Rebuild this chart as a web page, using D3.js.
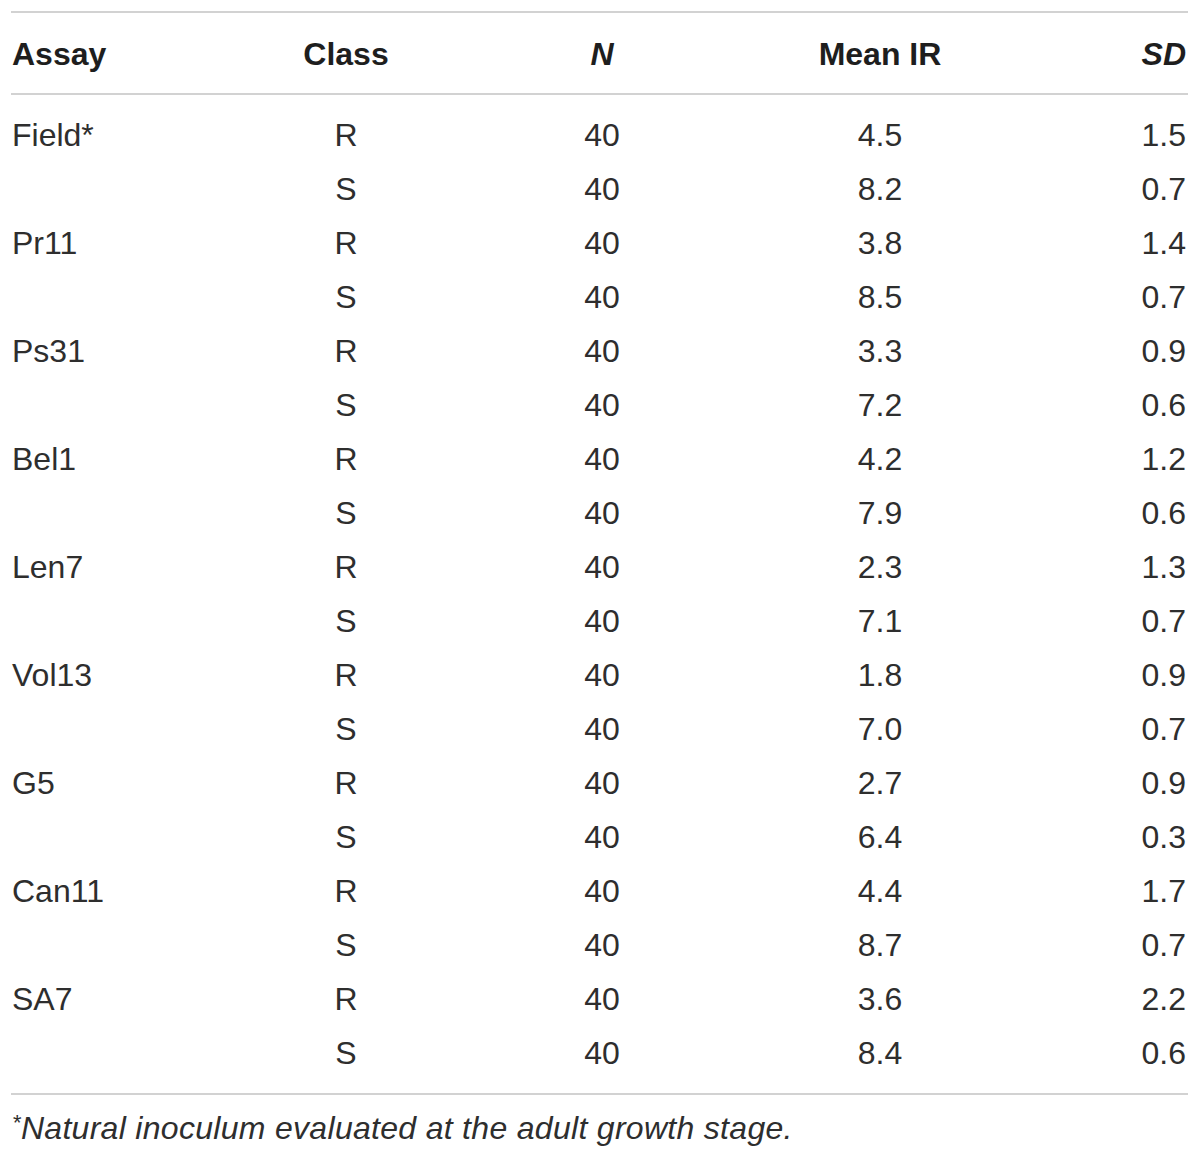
<!DOCTYPE html>
<html>
<head>
<meta charset="utf-8">
<script src="https://cdn.jsdelivr.net/npm/d3@7"></script>
<style>
  body { margin: 0; background: #fff; }
  svg { display: block; }
  text { font-family: "Liberation Sans", Arial, sans-serif; fill: #2e2e2e; }
</style>
</head>
<body>
<div id="tabela"></div>
<script>
// Dados da tabela
const assays = ["Field*", "Pr11", "Ps31", "Bel1", "Len7", "Vol13", "G5", "Can11", "SA7"];
const classes = ["R", "S"];
const nValues = [40, 40, 40, 40, 40, 40, 40, 40, 40, 40, 40, 40, 40, 40, 40, 40, 40, 40];
const meanIR = [4.5, 8.2, 3.8, 8.5, 3.3, 7.2, 4.2, 7.9, 2.3, 7.1, 1.8, 7.0, 2.7, 6.4, 4.4, 8.7, 3.6, 8.4];
const sdValues = [1.5, 0.7, 1.4, 0.7, 0.9, 0.6, 1.2, 0.6, 1.3, 0.7, 0.9, 0.7, 0.9, 0.3, 1.7, 0.7, 2.2, 0.6];
const headers = ["Assay", "Class", "N", "Mean IR", "SD"];
const footnote = "Natural inoculum evaluated at the adult growth stage.";

// Montando as linhas
const linhas = meanIR.map((m, i) => ({
    assay: i % 2 === 0 ? assays[i / 2] : "",
    classe: classes[i % 2],
    n: nValues[i],
    mean: m.toFixed(1),
    sd: sdValues[i].toFixed(1)
}));

const width = 1200, height = 1158;
const svg = d3.select("#tabela").append("svg")
    .attr("width", width)
    .attr("height", height);

// Escalas: colunas e linhas
const colunas = [
    { key: "assay", x: 12, anchor: "start" },
    { key: "classe", x: 346, anchor: "middle" },
    { key: "n", x: 602, anchor: "middle" },
    { key: "mean", x: 880, anchor: "middle" },
    { key: "sd", x: 1186, anchor: "end" }
];
const y = d3.scalePoint()
    .domain(d3.range(linhas.length))
    .range([146, 1064]);

// Linhas horizontais
const regras = [12, 94, 1094];
svg.selectAll("line.regra")
    .data(regras)
    .join("line")
    .attr("class", "regra")
    .attr("x1", 11)
    .attr("x2", 1188)
    .attr("y1", d => d)
    .attr("y2", d => d)
    .attr("stroke", "#d2d2d2")
    .attr("stroke-width", 2);

// Cabeçalho
svg.selectAll("text.cab")
    .data(headers)
    .join("text")
    .attr("class", "cab")
    .attr("x", (d, i) => colunas[i].x)
    .attr("y", 65)
    .attr("text-anchor", (d, i) => colunas[i].anchor)
    .attr("font-size", 32)
    .attr("font-weight", "bold")
    .style("fill", "#1e1e1e")
    .attr("font-style", d => (d === "N" || d === "SD") ? "italic" : "normal")
    .text(d => d);

// Corpo da tabela
const grupos = svg.selectAll("g.linha")
    .data(linhas)
    .join("g")
    .attr("class", "linha")
    .attr("transform", (d, i) => `translate(0,${y(i)})`);

colunas.forEach(c => {
    grupos.append("text")
        .attr("x", c.x)
        .attr("text-anchor", c.anchor)
        .attr("font-size", 32)
        .text(d => d[c.key]);
});

// Nota de rodapé
const nota = svg.append("text")
    .attr("x", 12)
    .attr("y", 1139)
    .attr("font-size", 32)
    .attr("font-style", "italic")
    .attr("letter-spacing", 0.3);
nota.append("tspan")
    .attr("font-size", 22)
    .attr("dy", -9)
    .text("*");
nota.append("tspan")
    .attr("dy", 9)
    .text(footnote);
</script>
</body>
</html>
